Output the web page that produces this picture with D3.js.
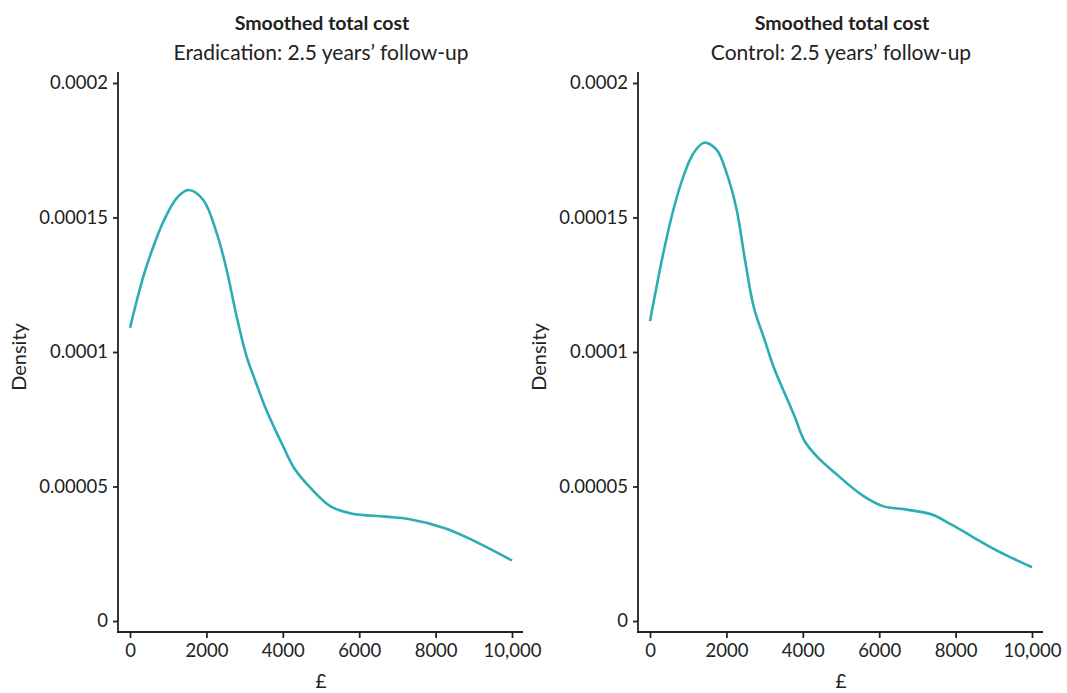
<!DOCTYPE html>
<html>
<head>
<meta charset="utf-8">
<script src="https://cdn.jsdelivr.net/npm/d3@7"></script>
<style>
  body { margin: 0; background: #fff; }
  text { font-family: Lato, "Open Sans", sans-serif; fill: #222; }
</style>
</head>
<body>
<div id="chart"></div>
<script>
// data
var titles = ["Smoothed total cost", "Smoothed total cost"];
var subtitles = ["Eradication: 2.5 years\u2019 follow-up", "Control: 2.5 years\u2019 follow-up"];
var xTicks = [0, 2000, 4000, 6000, 8000, 10000];
var yTicks = [0, 0.00005, 0.0001, 0.00015, 0.0002];

var eradCost = [0, 348, 610, 872, 1223, 1526, 1918, 2270, 2531, 2793, 3055, 3272, 3539, 4024, 4291, 4731, 5262, 5791, 6676, 7294, 8265, 8885, 10000];
var eradDensity = [0.0001090, 0.0001280, 0.0001391, 0.0001484, 0.0001572, 0.0001602, 0.0001565, 0.0001442, 0.0001305, 0.0001131, 0.0000982, 0.0000896, 0.0000795, 0.0000645, 0.0000570, 0.0000494, 0.0000425, 0.0000400, 0.0000388, 0.0000379, 0.0000344, 0.0000306, 0.0000225];

var ctrlCost = [0, 348, 610, 872, 1134, 1414, 1746, 2008, 2270, 2487, 2720, 3000, 3239, 3773, 4042, 4398, 4846, 5561, 6097, 6723, 7394, 7883, 8420, 9134, 10000];
var ctrlDensity = [0.0001115, 0.0001367, 0.0001528, 0.0001652, 0.0001738, 0.0001778, 0.0001751, 0.0001664, 0.0001528, 0.0001342, 0.0001165, 0.0001045, 0.0000943, 0.0000765, 0.0000670, 0.0000607, 0.0000550, 0.0000467, 0.0000427, 0.0000414, 0.0000395, 0.0000359, 0.0000315, 0.0000258, 0.0000200];

var width = 1067, height = 693;
var lineColor = "#2aaeb2";

var svg = d3.select("#chart").append("svg")
  .attr("width", width)
  .attr("height", height);

var panels = [
  { left: 0, xs: eradCost, ys: eradDensity },
  { left: 520, xs: ctrlCost, ys: ctrlDensity }
];

var fmtX = function(d) { return d >= 10000 ? d3.format(",")(d) : String(d); };
var fmtY = function(d) { return d === 0 ? "0" : String(+d.toFixed(5)); };

panels.forEach(function(p, i) {
  var g = svg.append("g").attr("transform", "translate(" + p.left + ",0)");

  var x = d3.scaleLinear().domain([0, 10000]).range([130, 512]);
  var y = d3.scaleLinear().domain([0, 0.0002]).range([621, 83]);

  // axes
  var xAxis = d3.axisBottom(x).tickValues(xTicks).tickFormat(fmtX).tickSize(6).tickPadding(6);
  var yAxis = d3.axisLeft(y).tickValues(yTicks).tickFormat(fmtY).tickSize(5).tickPadding(5);

  var gx = g.append("g").attr("transform", "translate(0,632)").call(xAxis);
  gx.select(".domain").remove();
  gx.append("line").attr("x1", 117).attr("x2", 523).attr("y1", 0).attr("y2", 0)
    .attr("stroke", "#222").attr("stroke-width", 1.8);

  var gy = g.append("g").attr("transform", "translate(118,0)").call(yAxis);
  gy.select(".domain").remove();
  gy.append("line").attr("x1", 0).attr("x2", 0).attr("y1", 72).attr("y2", 633)
    .attr("stroke", "#222").attr("stroke-width", 1.8);

  [gx, gy].forEach(function(a) {
    a.selectAll(".tick line").attr("stroke", "#222").attr("stroke-width", 1.8);
    a.selectAll(".tick text").attr("font-size", 18.5).attr("fill", "#222")
      .style("font-family", "Lato, sans-serif");
  });

  // density curve
  var pts = p.xs.map(function(v, k) { return [v, p.ys[k]]; });
  var line = d3.line()
    .x(function(d) { return x(d[0]); })
    .y(function(d) { return y(d[1]); })
    .curve(d3.curveCatmullRom.alpha(0.5));

  g.append("path").datum(pts)
    .attr("d", line)
    .attr("fill", "none")
    .attr("stroke", lineColor)
    .attr("stroke-width", 2.6);

  // titles
  g.append("text").attr("x", 322).attr("y", 30)
    .attr("text-anchor", "middle").attr("font-size", 19.5).attr("font-weight", "bold")
    .text(titles[i]);
  g.append("text").attr("x", 321).attr("y", 60)
    .attr("text-anchor", "middle").attr("font-size", 21)
    .text(subtitles[i]);

  // axis labels
  g.append("text").attr("x", 321).attr("y", 688)
    .attr("text-anchor", "middle").attr("font-size", 19)
    .text("\u00a3");
  g.append("text")
    .attr("transform", "translate(26,357) rotate(-90)")
    .attr("text-anchor", "middle").attr("font-size", 20)
    .text("Density");
});
</script>
</body>
</html>
